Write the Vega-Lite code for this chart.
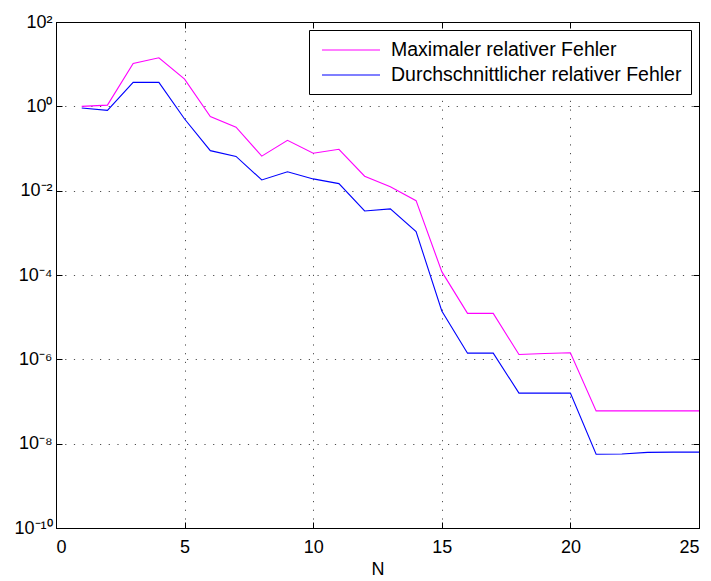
{
  "$schema": "https://vega.github.io/schema/vega-lite/v6.json",
  "width": 643,
  "height": 506,
  "autosize": "none",
  "padding": {"left": 56, "top": 22, "right": 12, "bottom": 53},
  "background": "white",
  "config": {
    "font": "Liberation Sans",
    "view": {"stroke": "black", "strokeWidth": 1},
    "axis": {
      "labelFont": "Liberation Sans",
      "titleFont": "Liberation Sans",
      "labelFontSize": 18,
      "titleFontSize": 18,
      "titleFontWeight": "normal",
      "labelColor": "black",
      "titleColor": "black",
      "domainColor": "black",
      "tickColor": "black",
      "tickSize": -6,
      "tickWidth": 1,
      "gridColor": "#222222",
      "gridDash": [1.2, 7.5],
      "gridOpacity": 0.8
    }
  },
  "data": {
    "values": [
      {"N": 1, "series": "Maximaler relativer Fehler", "err": 1.0},
      {"N": 2, "series": "Maximaler relativer Fehler", "err": 1.07},
      {"N": 3, "series": "Maximaler relativer Fehler", "err": 10.4},
      {"N": 4, "series": "Maximaler relativer Fehler", "err": 14.2},
      {"N": 5, "series": "Maximaler relativer Fehler", "err": 4.4},
      {"N": 6, "series": "Maximaler relativer Fehler", "err": 0.57},
      {"N": 7, "series": "Maximaler relativer Fehler", "err": 0.32},
      {"N": 8, "series": "Maximaler relativer Fehler", "err": 0.066},
      {"N": 9, "series": "Maximaler relativer Fehler", "err": 0.156},
      {"N": 10, "series": "Maximaler relativer Fehler", "err": 0.077},
      {"N": 11, "series": "Maximaler relativer Fehler", "err": 0.096},
      {"N": 12, "series": "Maximaler relativer Fehler", "err": 0.022},
      {"N": 13, "series": "Maximaler relativer Fehler", "err": 0.0124},
      {"N": 14, "series": "Maximaler relativer Fehler", "err": 0.0058},
      {"N": 15, "series": "Maximaler relativer Fehler", "err": 0.00012},
      {"N": 16, "series": "Maximaler relativer Fehler", "err": 1.23e-5},
      {"N": 17, "series": "Maximaler relativer Fehler", "err": 1.23e-5},
      {"N": 18, "series": "Maximaler relativer Fehler", "err": 1.3e-6},
      {"N": 19, "series": "Maximaler relativer Fehler", "err": 1.37e-6},
      {"N": 20, "series": "Maximaler relativer Fehler", "err": 1.43e-6},
      {"N": 21, "series": "Maximaler relativer Fehler", "err": 6.0e-8},
      {"N": 22, "series": "Maximaler relativer Fehler", "err": 6.0e-8},
      {"N": 23, "series": "Maximaler relativer Fehler", "err": 6.0e-8},
      {"N": 24, "series": "Maximaler relativer Fehler", "err": 6.0e-8},
      {"N": 25, "series": "Maximaler relativer Fehler", "err": 6.0e-8},
      {"N": 1, "series": "Durchschnittlicher relativer Fehler", "err": 0.91},
      {"N": 2, "series": "Durchschnittlicher relativer Fehler", "err": 0.8},
      {"N": 3, "series": "Durchschnittlicher relativer Fehler", "err": 3.7},
      {"N": 4, "series": "Durchschnittlicher relativer Fehler", "err": 3.7},
      {"N": 5, "series": "Durchschnittlicher relativer Fehler", "err": 0.5},
      {"N": 6, "series": "Durchschnittlicher relativer Fehler", "err": 0.089},
      {"N": 7, "series": "Durchschnittlicher relativer Fehler", "err": 0.065},
      {"N": 8, "series": "Durchschnittlicher relativer Fehler", "err": 0.018},
      {"N": 9, "series": "Durchschnittlicher relativer Fehler", "err": 0.028},
      {"N": 10, "series": "Durchschnittlicher relativer Fehler", "err": 0.019},
      {"N": 11, "series": "Durchschnittlicher relativer Fehler", "err": 0.0147},
      {"N": 12, "series": "Durchschnittlicher relativer Fehler", "err": 0.0033},
      {"N": 13, "series": "Durchschnittlicher relativer Fehler", "err": 0.0037},
      {"N": 14, "series": "Durchschnittlicher relativer Fehler", "err": 0.00107},
      {"N": 15, "series": "Durchschnittlicher relativer Fehler", "err": 1.4e-5},
      {"N": 16, "series": "Durchschnittlicher relativer Fehler", "err": 1.4e-6},
      {"N": 17, "series": "Durchschnittlicher relativer Fehler", "err": 1.4e-6},
      {"N": 18, "series": "Durchschnittlicher relativer Fehler", "err": 1.58e-7},
      {"N": 19, "series": "Durchschnittlicher relativer Fehler", "err": 1.58e-7},
      {"N": 20, "series": "Durchschnittlicher relativer Fehler", "err": 1.58e-7},
      {"N": 21, "series": "Durchschnittlicher relativer Fehler", "err": 5.6e-9},
      {"N": 22, "series": "Durchschnittlicher relativer Fehler", "err": 5.7e-9},
      {"N": 23, "series": "Durchschnittlicher relativer Fehler", "err": 6.2e-9},
      {"N": 24, "series": "Durchschnittlicher relativer Fehler", "err": 6.3e-9},
      {"N": 25, "series": "Durchschnittlicher relativer Fehler", "err": 6.3e-9}
    ]
  },
  "layer": [
    {
      "mark": {"type": "line", "strokeWidth": 1.1, "clip": true},
      "encoding": {
        "x": {
          "field": "N", "type": "quantitative",
          "scale": {"domain": [0, 25], "nice": false, "zero": false},
          "axis": {"orient": "bottom", "values": [0, 5, 10, 15, 20, 25], "grid": true, "title": "N", "labelPadding": 16, "titlePadding": 4}
        },
        "y": {
          "field": "err", "type": "quantitative",
          "scale": {"type": "log", "domain": [1e-10, 100], "nice": false},
          "axis": {
            "orient": "left",
            "values": [1e-10, 1e-8, 1e-6, 1e-4, 1e-2, 1, 100],
            "grid": true,
            "title": null,
            "labelPadding": 10,
            "labelExpr": "['10⁻¹⁰','','10⁻⁸','','10⁻⁶','','10⁻⁴','','10⁻²','','10⁰','','10²'][round(log(datum.value)/LN10)+10]"
          }
        },
        "color": {
          "field": "series", "type": "nominal",
          "scale": {"domain": ["Maximaler relativer Fehler", "Durchschnittlicher relativer Fehler"], "range": ["#ff00ff", "#0000ff"]},
          "legend": {
            "title": null,
            "orient": "top-right",
            "offset": 8,
            "symbolType": "M-0.7,0H5.1",
            "symbolSize": 400,
            "symbolStrokeWidth": 1.1,
            "labelFontSize": 19.5,
            "labelFont": "Liberation Sans",
            "labelColor": "black",
            "labelOffset": 51,
            "labelLimit": 400,
            "padding": 9,
            "rowPadding": 4,
            "strokeColor": "black",
            "fillColor": "white",
            "cornerRadius": 0
          }
        }
      }
    },
    {
      "mark": {"type": "line", "opacity": 0},
      "encoding": {
        "x": {
          "field": "N", "type": "quantitative",
          "scale": {"domain": [0, 25], "nice": false, "zero": false},
          "axis": {"orient": "top", "values": [0, 5, 10, 15, 20, 25], "grid": false, "labels": false, "title": null}
        },
        "y": {
          "field": "err", "type": "quantitative",
          "scale": {"type": "log", "domain": [1e-10, 100], "nice": false},
          "axis": {"orient": "right", "values": [1e-10, 1e-8, 1e-6, 1e-4, 1e-2, 1, 100], "grid": false, "labels": false, "title": null}
        },
        "detail": {"field": "series"}
      }
    }
  ],
  "resolve": {"axis": {"x": "independent", "y": "independent"}}
}
